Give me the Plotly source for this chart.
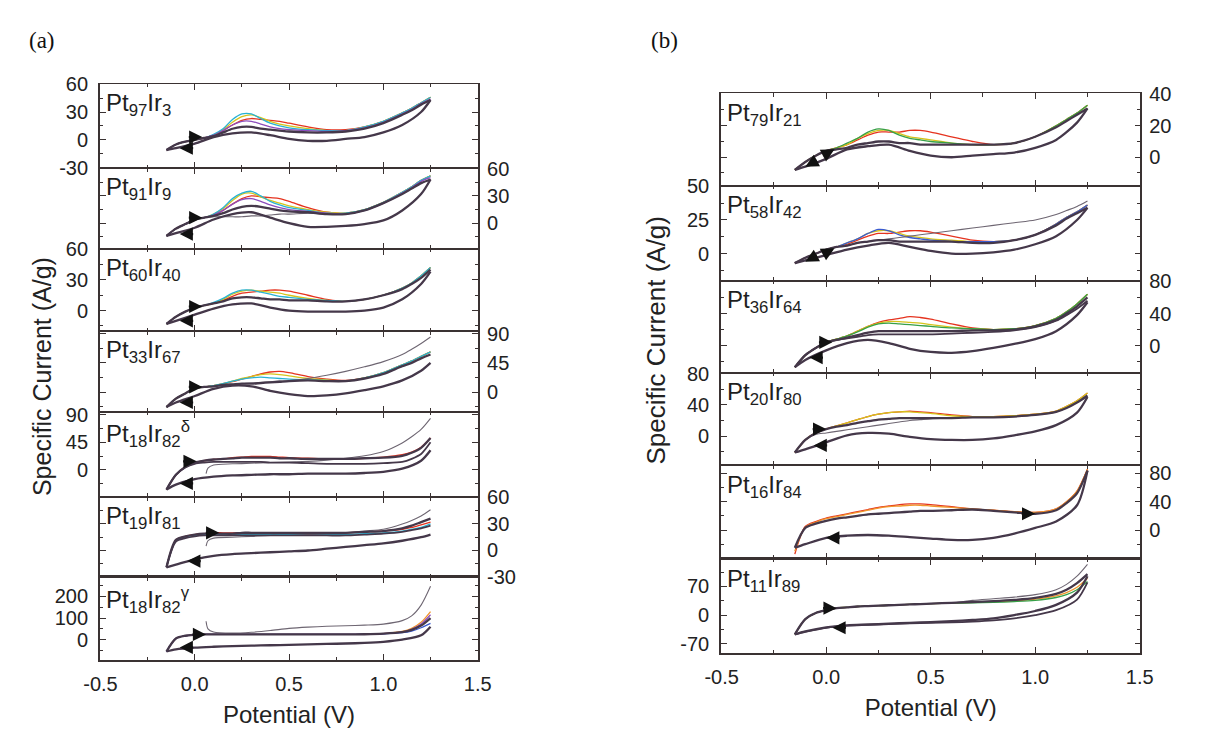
import plotly.graph_objects as go

# ---------------- data (potential grids, currents in A/g) ----------------
GF = [-0.15, -0.1, -0.05, 0.0, 0.05, 0.1, 0.15, 0.2, 0.25, 0.3, 0.35, 0.4, 0.45, 0.5,
      0.6, 0.7, 0.8, 0.9, 1.0, 1.1, 1.15, 1.2, 1.25]
GR = [1.25, 1.2, 1.1, 1.0, 0.9, 0.8, 0.7, 0.6, 0.5, 0.4, 0.3, 0.2, 0.1, 0.0, -0.1, -0.15]
FIRST_X = [0.06, 0.07, 0.1, 0.2, 0.3, 0.4, 0.5, 0.6, 0.7, 0.8, 0.9, 1.0, 1.1, 1.15, 1.2, 1.25]

XTICKS = [-0.5, 0.0, 0.5, 1.0, 1.5]
XTICKTEXT = ["-0.5", "0.0", "0.5", "1.0", "1.5"]

# (a) Pt97Ir3
a1_red = [-11, -5, -2, 0, 2, 5, 10, 16, 21, 23, 22, 21, 20, 18, 14, 11, 11, 14, 20, 29, 34, 40, 46]
a1_yellow = [-11, -5, -2, 0, 2, 5, 11, 19, 25, 27, 24, 20, 17, 15, 12, 10, 10, 14, 20, 29, 34, 40, 46]
a1_cyan = [-11, -5, -2, 0, 2, 6, 12, 22, 28, 28, 23, 18, 15, 13, 11, 10, 10, 14, 20, 29, 34, 40, 46]
a1_violet = [-11, -5, -2, 0, 2, 5, 10, 16, 20, 20, 17, 14, 12, 11, 10, 9, 10, 13, 19, 28, 33, 39, 44]
a1_dark = [-11, -5, -2, 0, 2, 4, 8, 12, 14, 14, 12, 11, 10, 9, 8, 8, 9, 12, 18, 27, 32, 38, 43]
a1_rev = [43, 30, 16, 8, 3, 1, -1, -1, 1, 5, 8, 7, 3, -4, -9, -11]
a1_arrows = [(0.04, 3, "r"), (-0.08, -9, "l")]

# (a) Pt91Ir9
a2_red = [-14, -6, -1, 4, 6, 9, 14, 21, 27, 30, 29, 28, 27, 24, 17, 12, 11, 15, 23, 34, 40, 47, 52]
a2_yellow = [-14, -6, -1, 4, 6, 10, 16, 25, 32, 33, 29, 25, 22, 19, 15, 12, 11, 15, 23, 34, 40, 47, 52]
a2_cyan = [-14, -6, -1, 4, 6, 10, 17, 27, 33, 35, 30, 24, 20, 17, 14, 11, 11, 15, 23, 34, 40, 47, 52]
a2_violet = [-14, -6, -1, 4, 6, 9, 14, 21, 26, 27, 24, 20, 17, 15, 13, 11, 10, 14, 22, 33, 39, 46, 50]
a2_dark = [-14, -6, -1, 4, 6, 8, 11, 15, 18, 19, 18, 16, 14, 13, 12, 10, 10, 14, 22, 32, 38, 44, 48]
a2_first = [-14, -6, -1, 4, 6, 7, 7, 7, 7, 8, 8, 9, 10, 10, 11, 10, 10, 14, 22, 32, 38, 44, 48]
a2_rev = [48, 32, 14, 3, -1, -3, -4, -4, 0, 6, 12, 10, 4, -5, -11, -14]
a2_arrows = [(0.04, 6, "r"), (-0.08, -12, "l")]

# (a) Pt60Ir40
a3_red = [-13, -6, -1, 3, 5, 7, 10, 14, 17, 18, 19, 20, 20, 19, 15, 11, 9, 11, 15, 22, 27, 34, 42]
a3_yellow = [-13, -6, -1, 3, 5, 7, 11, 16, 19, 20, 19, 18, 17, 15, 12, 10, 9, 11, 15, 22, 27, 34, 42]
a3_cyan = [-13, -6, -1, 3, 5, 8, 12, 17, 20, 20, 18, 16, 14, 13, 11, 10, 9, 11, 15, 22, 27, 34, 42]
a3_dark = [-13, -6, -1, 3, 5, 7, 9, 12, 13, 13, 12, 11, 11, 10, 10, 9, 9, 11, 15, 21, 26, 32, 40]
a3_rev = [38, 26, 11, 3, 0, -1, -1, -1, 0, 3, 7, 6, 2, -4, -10, -13]
a3_arrows = [(0.04, 4, "r"), (-0.08, -10, "l")]

# (a) Pt33Ir67
a4_red = [-23, -10, -2, 6, 8, 10, 13, 16, 20, 24, 28, 31, 32, 30, 24, 20, 18, 22, 30, 42, 48, 55, 62]
a4_yellow = [-23, -10, -2, 6, 8, 10, 13, 17, 21, 24, 27, 28, 27, 25, 21, 19, 17, 22, 30, 42, 48, 55, 62]
a4_cyan = [-23, -10, -2, 6, 8, 10, 13, 17, 20, 22, 23, 22, 21, 20, 19, 18, 17, 22, 30, 42, 48, 55, 62]
a4_dark = [-23, -10, -2, 6, 8, 9, 11, 12, 13, 13, 14, 15, 16, 17, 18, 17, 17, 21, 28, 40, 45, 52, 58]
a4_first = [-23, -10, -2, 6, 8, 9, 11, 12, 13, 14, 15, 16, 17, 18, 21, 26, 32, 39, 47, 58, 66, 75, 85]
a4_rev = [45, 33, 18, 9, 3, -2, -5, -6, -3, 2, 9, 10, 5, -6, -16, -23]
a4_arrows = [(0.04, 8, "r"), (-0.08, -16, "l")]

# (a) Pt18Ir82 delta
a5_red = [-32, -8, 5, 12, 15, 17, 18, 20, 21, 22, 22, 22, 21, 20, 19, 18, 18, 19, 21, 25, 29, 37, 52]
a5_dark = [-32, -8, 5, 12, 15, 17, 18, 19, 20, 20, 20, 20, 19, 19, 18, 18, 18, 19, 20, 23, 28, 36, 52]
a5_dark2 = [-32, -8, 4, 10, 12, 13, 13, 13, 13, 13, 13, 12, 12, 12, 11, 10, 10, 10, 11, 13, 18, 26, 45]
a5_first = [-6, 3, 8, 10, 11, 12, 13, 14, 16, 19, 23, 30, 44, 54, 66, 84]
a5_rev = [32, 15, 2, -3, -5, -6, -6, -6, -7, -7, -8, -9, -11, -15, -24, -32]
a5_arrows = [(0.01, 14, "r"), (-0.08, -22, "l")]

# (a) Pt19Ir81
a6_red = [-19, 12, 16, 18, 19, 20, 20, 20, 20, 20, 20, 20, 20, 20, 20, 20, 20, 21, 22, 24, 26, 29, 32]
a6_green = [-19, 11, 15, 17, 18, 18, 18, 18, 18, 18, 18, 18, 18, 18, 18, 18, 18, 19, 20, 22, 24, 26, 30]
a6_dark = [-19, 12, 16, 18, 19, 19, 19, 19, 20, 20, 20, 20, 20, 20, 20, 20, 20, 21, 22, 25, 28, 32, 36]
a6_dark2 = [-19, 10, 14, 16, 17, 17, 17, 17, 17, 17, 17, 17, 17, 17, 17, 17, 17, 18, 19, 21, 23, 25, 28]
a6_first = [5, 11, 14, 15, 16, 17, 17, 18, 19, 20, 22, 24, 30, 34, 39, 46]
a6_rev = [18, 15, 11, 8, 6, 4, 2, 0, -1, -2, -3, -4, -6, -10, -16, -19]
a6_arrows = [(0.13, 20, "r"), (-0.04, -12, "l")]

# (a) Pt18Ir82 gamma
a7_orange = [-55, 5, 18, 22, 24, 24, 24, 24, 24, 24, 24, 24, 24, 24, 24, 24, 24, 25, 28, 38, 52, 80, 130]
a7_violet = [-55, 5, 18, 22, 24, 24, 24, 24, 24, 24, 24, 24, 24, 24, 24, 24, 24, 25, 28, 36, 48, 72, 115]
a7_blue = [-55, 5, 18, 22, 24, 24, 24, 24, 24, 24, 24, 24, 24, 24, 24, 24, 24, 25, 27, 32, 40, 55, 75]
a7_dark = [-55, 5, 18, 22, 24, 24, 24, 24, 24, 24, 24, 24, 24, 24, 24, 24, 24, 25, 28, 35, 45, 65, 100]
a7_first = [85, 50, 35, 30, 34, 42, 52, 58, 62, 64, 67, 72, 88, 110, 160, 247]
a7_rev = [60, 20, 0, -10, -15, -18, -20, -22, -24, -26, -28, -30, -33, -37, -45, -55]
a7_arrows = [(0.06, 24, "r"), (-0.08, -36, "l")]

# (b) Pt79Ir21
b1_red = [-8, -3, 1, 4, 6, 8, 11, 14, 16, 16, 16, 17, 17, 16, 13, 10, 8, 9, 13, 20, 24, 28, 33]
b1_yellow = [-8, -3, 1, 4, 6, 8, 12, 15, 17, 17, 15, 13, 12, 11, 9, 8, 8, 9, 13, 20, 24, 28, 33]
b1_green = [-8, -3, 1, 4, 6, 9, 12, 16, 18, 17, 14, 12, 11, 10, 9, 8, 8, 9, 13, 20, 24, 28, 33]
b1_dark = [-8, -3, 1, 4, 5, 6, 8, 9, 10, 10, 9, 9, 8, 8, 8, 8, 8, 9, 13, 19, 23, 27, 31]
b1_rev = [31, 22, 11, 6, 3, 2, 1, 0, 1, 4, 8, 7, 5, -1, -6, -8]
b1_arrows = [(0.04, 5, "ur"), (-0.1, -6, "dl")]

# (b) Pt58Ir42
b2_red = [-7, -3, 0, 3, 5, 7, 10, 13, 15, 15, 16, 17, 17, 16, 13, 10, 9, 10, 14, 22, 27, 31, 36]
b2_yellow = [-7, -3, 0, 3, 5, 8, 11, 15, 17, 17, 15, 13, 12, 11, 10, 9, 9, 10, 14, 22, 27, 31, 36]
b2_blue = [-7, -3, 0, 3, 5, 8, 11, 15, 18, 17, 14, 12, 11, 10, 9, 9, 9, 10, 14, 22, 27, 31, 36]
b2_dark = [-7, -3, 0, 3, 5, 6, 8, 9, 10, 10, 9, 9, 9, 9, 9, 8, 8, 10, 14, 21, 26, 30, 34]
b2_first = [-7, -3, 0, 3, 5, 6, 8, 9, 10, 11, 12, 13, 14, 15, 17, 19, 21, 23, 25, 29, 32, 35, 39]
b2_rev = [34, 25, 13, 7, 3, 1, 0, 0, 2, 5, 8, 6, 3, -1, -5, -7]
b2_arrows = [(0.04, 4, "ur"), (-0.1, -6, "dl")]

# (b) Pt36Ir64
b3_red = [-27, -12, -3, 4, 8, 12, 18, 24, 29, 32, 34, 36, 35, 33, 27, 22, 20, 21, 25, 34, 42, 52, 64]
b3_yellow = [-27, -12, -3, 4, 8, 12, 18, 24, 28, 30, 30, 29, 28, 26, 23, 21, 20, 21, 25, 34, 42, 52, 64]
b3_green = [-27, -12, -3, 4, 8, 12, 17, 23, 27, 28, 27, 26, 25, 24, 22, 21, 20, 21, 25, 34, 42, 52, 64]
b3_dark = [-27, -12, -3, 4, 7, 10, 13, 16, 18, 18, 18, 18, 18, 18, 18, 19, 19, 20, 24, 32, 40, 49, 60]
b3_dark2 = [-27, -12, -3, 4, 7, 9, 11, 13, 14, 14, 14, 14, 14, 14, 15, 16, 17, 19, 23, 31, 38, 46, 56]
b3_rev = [54, 38, 18, 8, 2, -3, -7, -9, -8, -4, 3, 7, 3, -6, -18, -27]
b3_arrows = [(0.03, 4, "r"), (-0.08, -15, "l")]

# (b) Pt20Ir80
b4_red = [-21, -5, 4, 9, 13, 17, 21, 25, 28, 30, 31, 32, 31, 30, 27, 25, 25, 26, 28, 32, 38, 45, 55]
b4_yellow = [-21, -5, 4, 9, 13, 17, 21, 25, 28, 30, 31, 31, 30, 29, 26, 25, 25, 26, 28, 32, 38, 45, 55]
b4_dark = [-21, -5, 4, 9, 12, 14, 17, 19, 21, 22, 23, 23, 23, 23, 23, 24, 24, 25, 27, 31, 36, 43, 52]
b4_first = [-21, -5, 2, 4, 6, 8, 10, 12, 14, 16, 18, 20, 21, 22, 23, 24, 24, 25, 27, 31, 36, 43, 50]
b4_rev = [50, 30, 14, 6, 1, -3, -5, -5, -4, -1, 3, 4, 1, -8, -17, -21]
b4_arrows = [(0.0, 9, "r"), (-0.06, -12, "l")]

# (b) Pt16Ir84
b5_red = [-34, 5, 12, 17, 20, 23, 26, 29, 32, 34, 36, 37, 37, 36, 33, 30, 28, 26, 25, 30, 40, 55, 86]
b5_orange = [-30, 4, 11, 16, 19, 22, 25, 28, 31, 33, 34, 35, 35, 34, 32, 30, 28, 26, 25, 30, 40, 55, 86]
b5_dark = [-25, 3, 9, 13, 16, 18, 20, 22, 23, 24, 25, 26, 27, 27, 28, 29, 27, 25, 23, 28, 38, 52, 84]
b5_rev = [84, 35, 12, 3, -5, -11, -14, -14, -12, -10, -8, -7, -8, -11, -20, -25]
b5_arrows = [(1.0, 23, "r"), (0.0, -11, "l")]

# (b) Pt11Ir89
b6_orange = [-47, -10, 5, 12, 17, 19, 21, 22, 23, 24, 25, 26, 27, 28, 29, 31, 33, 35, 39, 47, 55, 68, 90]
b6_green = [-47, -10, 5, 12, 17, 19, 21, 22, 23, 24, 25, 26, 27, 28, 29, 30, 31, 33, 36, 43, 50, 62, 82]
b6_dark = [-47, -10, 5, 12, 17, 19, 21, 22, 23, 24, 25, 26, 27, 28, 30, 32, 34, 37, 42, 52, 62, 78, 100]
b6_first = [-47, -10, 5, 12, 17, 19, 21, 22, 23, 24, 25, 26, 27, 28, 30, 36, 40, 44, 50, 62, 75, 95, 124]
b6_rev = [95, 55, 25, 10, 0, -8, -12, -15, -17, -19, -21, -23, -25, -30, -40, -47]
b6_rev2 = [80, 38, 12, 0, -8, -13, -16, -18, -19, -20, -22, -24, -26, -31, -41, -47]
b6_arrows = [(0.05, 17, "r"), (0.03, -31, "l")]

# ---------------- styling ----------------
RED, ORANGE, YELLOW = "#e5331f", "#f0962c", "#d6c41c"
GREEN, CYAN, BLUE = "#37a048", "#28b2d4", "#3a5bd0"
VIOLET, DARK, GRAY = "#8c4cbc", "#45384a", "#6e6672"
AXC = "#3a3232"
FONT = "Liberation Sans"
TICK_FONT = dict(family=FONT, size=20, color="#222")
W, H = 1206, 733

PANEL_X = {"a": (85, 473), "b": (722, 1152)}
PANEL_Y = {"a": [75, 162, 245, 330, 413, 501, 584, 669],
           "b": [85, 180, 278, 373, 468, 565, 662]}

def C(y, col, w=1.3, x=None):
    return (GF if x is None else x, y, col, w)

def R(y, w=2.3):
    return (GR, y, DARK, w)

subplots = [
    dict(panel="a", label="Pt<sub>97</sub>Ir<sub>3</sub>", yr=[-30.5, 60.5], ticks=[60, 30, 0, -30], minor=15, side="left",
         curves=[C(a1_red, RED), C(a1_yellow, YELLOW), C(a1_cyan, CYAN), C(a1_violet, VIOLET), C(a1_dark, DARK, 2.3), R(a1_rev)],
         arrows=a1_arrows),
    dict(panel="a", label="Pt<sub>91</sub>Ir<sub>9</sub>", yr=[-28, 60.5], ticks=[60, 30, 0], minor=15, side="right",
         curves=[C(a2_red, RED), C(a2_yellow, YELLOW), C(a2_cyan, CYAN), C(a2_violet, VIOLET), C(a2_first, GRAY, 1.1),
                 C(a2_dark, DARK, 2.3), R(a2_rev)],
         arrows=a2_arrows),
    dict(panel="a", label="Pt<sub>60</sub>Ir<sub>40</sub>", yr=[-20, 60.5], ticks=[60, 30, 0], minor=15, side="left",
         curves=[C(a3_red, RED), C(a3_yellow, YELLOW), C(a3_cyan, CYAN), C(a3_dark, DARK, 2.3), R(a3_rev)],
         arrows=a3_arrows),
    dict(panel="a", label="Pt<sub>33</sub>Ir<sub>67</sub>", yr=[-30, 94], ticks=[90, 45, 0], minor=22.5, side="right",
         curves=[C(a4_red, RED), C(a4_yellow, YELLOW), C(a4_cyan, CYAN), C(a4_first, GRAY, 1.1), C(a4_dark, DARK, 2.3), R(a4_rev)],
         arrows=a4_arrows),
    dict(panel="a", label="Pt<sub>18</sub>Ir<sub>82</sub><sup>δ</sup>", yr=[-44, 95], ticks=[90, 45, 0], minor=22.5, side="left",
         curves=[C(a5_red, RED), C(a5_first, GRAY, 1.1, FIRST_X), C(a5_dark2, DARK, 1.8), C(a5_dark, DARK, 2.3), R(a5_rev)],
         arrows=a5_arrows),
    dict(panel="a", label="Pt<sub>19</sub>Ir<sub>81</sub>", yr=[-30.5, 60.5], ticks=[60, 30, 0, -30], minor=15, side="right",
         curves=[C(a6_red, RED), C(a6_green, CYAN), C(a6_first, GRAY, 1.1, FIRST_X), C(a6_dark2, DARK, 1.8), C(a6_dark, DARK, 2.3), R(a6_rev)],
         arrows=a6_arrows),
    dict(panel="a", label="Pt<sub>18</sub>Ir<sub>82</sub><sup>γ</sup>", yr=[-94, 288], ticks=[200, 100, 0], minor=50, side="left",
         curves=[C(a7_orange, ORANGE), C(a7_violet, VIOLET), C(a7_blue, BLUE), C(a7_first, GRAY, 1.1, FIRST_X),
                 C(a7_dark, DARK, 2.3), R(a7_rev)],
         arrows=a7_arrows),
    dict(panel="b", label="Pt<sub>79</sub>Ir<sub>21</sub>", yr=[-18, 40.5], ticks=[40, 20, 0], minor=10, side="right",
         curves=[C(b1_red, RED), C(b1_yellow, YELLOW), C(b1_green, GREEN), C(b1_dark, DARK, 2.3), R(b1_rev)],
         arrows=b1_arrows),
    dict(panel="b", label="Pt<sub>58</sub>Ir<sub>42</sub>", yr=[-20, 50.5], ticks=[50, 25, 0], minor=12.5, side="left",
         curves=[C(b2_red, RED), C(b2_yellow, YELLOW), C(b2_blue, BLUE), C(b2_first, GRAY, 1.1), C(b2_dark, DARK, 2.3), R(b2_rev)],
         arrows=b2_arrows),
    dict(panel="b", label="Pt<sub>36</sub>Ir<sub>64</sub>", yr=[-34, 81], ticks=[80, 40, 0], minor=20, side="right",
         curves=[C(b3_red, RED), C(b3_yellow, YELLOW), C(b3_green, GREEN), C(b3_dark2, DARK, 1.8), C(b3_dark, DARK, 2.3), R(b3_rev)],
         arrows=b3_arrows),
    dict(panel="b", label="Pt<sub>20</sub>Ir<sub>80</sub>", yr=[-37, 81], ticks=[80, 40, 0], minor=20, side="left",
         curves=[C(b4_red, RED), C(b4_yellow, YELLOW), C(b4_first, GRAY, 1.1), C(b4_dark, DARK, 2.3), R(b4_rev)],
         arrows=b4_arrows),
    dict(panel="b", label="Pt<sub>16</sub>Ir<sub>84</sub>", yr=[-41, 92], ticks=[80, 40, 0], minor=20, side="right",
         curves=[C(b5_red, RED), C(b5_orange, ORANGE), C(b5_dark, DARK, 2.3), R(b5_rev)],
         arrows=b5_arrows),
    dict(panel="b", label="Pt<sub>11</sub>Ir<sub>89</sub>", yr=[-93, 137], ticks=[70, 0, -70], minor=35, side="left",
         curves=[C(b6_orange, ORANGE), C(b6_green, GREEN), C(b6_first, GRAY, 1.1), C(b6_dark, DARK, 2.3), R(b6_rev2, 1.8), R(b6_rev)],
         arrows=b6_arrows),
]

ARROW_TAIL = {"r": (-15, 0), "l": (15, 0), "ur": (-13, 7), "dl": (13, -7)}

fig = go.Figure()
layout = dict(width=W, height=H, autosize=False, margin=dict(l=0, r=0, t=0, b=0, pad=0), showlegend=False,
              paper_bgcolor="white", plot_bgcolor="white")
annotations = []

row_counter = {"a": 0, "b": 0}
for n, sp in enumerate(subplots, start=1):
    p = sp["panel"]
    r = row_counter[p]
    row_counter[p] += 1
    bounds = PANEL_Y[p]
    top, bot = bounds[r], bounds[r + 1]
    is_bottom = (r + 1 == len(bounds) - 1)
    x0, x1 = PANEL_X[p]
    xs = "x" if n == 1 else f"x{n}"
    ys = "y" if n == 1 else f"y{n}"
    xk = "xaxis" if n == 1 else f"xaxis{n}"
    yk = "yaxis" if n == 1 else f"yaxis{n}"

    for (cx, cy, col, w) in sp["curves"]:
        fig.add_trace(go.Scatter(x=cx, y=cy, mode="lines", xaxis=xs, yaxis=ys,
                                 line=dict(color=col, width=w, shape="spline", smoothing=0.8),
                                 hoverinfo="skip"))

    xa = dict(domain=[x0 / W, x1 / W], anchor=ys, range=[-0.503, 1.503],
              tickmode="array", tickvals=XTICKS, ticktext=XTICKTEXT, showticklabels=is_bottom,
              ticks="inside", ticklen=6, tickwidth=1.3, tickcolor=AXC, ticklabelstandoff=5,
              minor=dict(tickmode="linear", tick0=0, dtick=0.25, ticks="inside", ticklen=3.5, tickcolor=AXC, tickwidth=1.1),
              showline=True, linecolor=AXC, linewidth=1.1, mirror="allticks",
              showgrid=False, zeroline=False, fixedrange=True, tickfont=TICK_FONT)
    if is_bottom:
        xa["title"] = dict(text="Potential (V)", font=dict(family=FONT, size=24, color="#222"), standoff=12)
        xa["linewidth"] = 1.6
    layout[xk] = xa

    layout[yk] = dict(domain=[1 - bot / H, 1 - top / H], anchor=xs, range=sp["yr"], side=sp["side"],
                      tickmode="array", tickvals=sp["ticks"], ticktext=[str(t) for t in sp["ticks"]],
                      ticks="inside", ticklen=6, tickwidth=1.3, tickcolor=AXC,
                      ticklabelstandoff=(6 if sp["side"] == "left" else 3),
                      minor=dict(tickmode="linear", tick0=0, dtick=sp["minor"], ticks="inside", ticklen=3.5, tickcolor=AXC, tickwidth=1.1),
                      showline=True, linecolor=AXC, linewidth=1.6, mirror="allticks",
                      showgrid=False, zeroline=False, fixedrange=True, tickfont=TICK_FONT)

    annotations.append(dict(text=sp["label"], xref=f"{xs} domain", yref=f"{ys} domain", x=0.01, y=0.96,
                            xanchor="left", yanchor="top", showarrow=False,
                            font=dict(family=FONT, size=24, color="#1e1e1e")))
    for (av, ai, d) in sp["arrows"]:
        tx, ty = ARROW_TAIL[d]
        annotations.append(dict(x=av, y=ai, xref=xs, yref=ys, ax=tx, ay=ty, text="", showarrow=True,
                                arrowhead=2, arrowsize=1.2, arrowwidth=2.2, arrowcolor="#111", standoff=0))

# y-axis titles and panel letters
annotations.append(dict(text="Specific Current (A/g)", xref="paper", yref="paper", x=25 / W, y=1 - 377 / H,
                        textangle=-90, showarrow=False, xanchor="center", yanchor="middle",
                        font=dict(family=FONT, size=25, color="#222")))
annotations.append(dict(text="Specific Current (A/g)", xref="paper", yref="paper", x=655 / W, y=1 - 339 / H,
                        textangle=-90, showarrow=False, xanchor="center", yanchor="middle",
                        font=dict(family=FONT, size=26, color="#222")))
annotations.append(dict(text="(a)", xref="paper", yref="paper", x=10 / W, y=1 - 30 / H, xanchor="left",
                        yanchor="middle", showarrow=False, font=dict(family="Liberation Serif", size=23, color="#111")))
annotations.append(dict(text="(b)", xref="paper", yref="paper", x=648 / W, y=1 - 30 / H, xanchor="left",
                        yanchor="middle", showarrow=False, font=dict(family="Liberation Serif", size=23, color="#111")))

layout["annotations"] = annotations
fig.update_layout(**layout)
fig.write_html("out.html", config={"displayModeBar": False},
               post_script="document.body.style.margin='0px';document.body.style.overflow='hidden';")
